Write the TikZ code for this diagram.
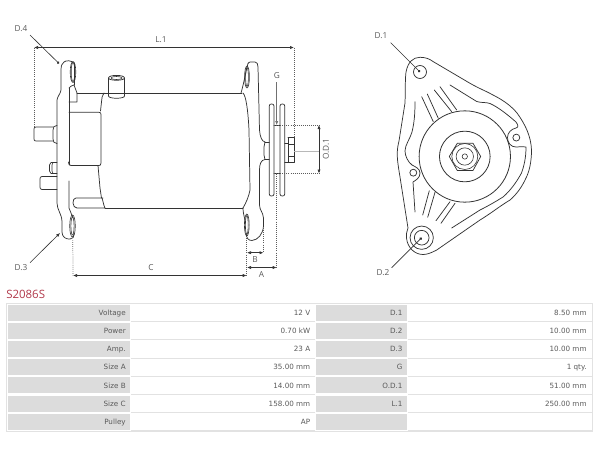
\documentclass[tikz,border=0pt]{standalone}
\usepackage{fontspec}
\setmainfont{DejaVu Sans}
\newfontfamily\lblfont{Open Sans}
\usetikzlibrary{arrows.meta}
\definecolor{ink}{HTML}{333333}
\definecolor{txt}{HTML}{5A5A5A}
\definecolor{cellgrey}{HTML}{DCDCDC}
\definecolor{rulegrey}{HTML}{E2E2E2}
\definecolor{titlered}{HTML}{B23A4C}
\tikzset{
  part/.style={draw=ink,line width=0.55pt,line join=round,line cap=round},
  thinpart/.style={draw=ink,line width=0.45pt},
  dotline/.style={draw=ink!80,line width=0.55pt,densely dotted},
  dimline/.style={draw=ink,line width=0.5pt,{Latex[length=3pt,width=2.4pt]}-{Latex[length=3pt,width=2.4pt]}},
  leader/.style={draw=ink,line width=0.45pt,-{Circle[length=2pt]}},
  leadarrow/.style={draw=ink,line width=0.45pt,-{Latex[length=3pt,width=2.4pt]}},
  dimlabel/.style={font=\lblfont\fontsize{6.2}{7}\selectfont,text=txt,inner sep=0pt},
  celltext/.style={font=\fontsize{5.4}{6}\selectfont,text=txt,inner sep=0pt,anchor=base east},
}
\begin{document}
\begin{tikzpicture}[x=0.75pt,y=-0.75pt]
\useasboundingbox (0,0) rectangle (600,450);
\fill[white] (0,0) rectangle (600,450);

% ---------- side view: left flange
\draw[part] (73.5,63) .. controls (72,60.5) and (66,60) .. (64,62) .. controls (62,63) and (61,66) .. (61,70)
  -- (61,90) .. controls (60.5,94) and (57.5,96) .. (57,100) -- (57,203)
  .. controls (57,210) and (62,214) .. (62,222) -- (62,232)
  .. controls (62,237) and (66,239.5) .. (70,239) .. controls (73,239) and (74,237) .. (74,234);
\draw[part] (74,63) -- (74,85);
\draw[part] (69,88) -- (69,165);
\draw[part] (69,181) -- (69,208) -- (73,218);
\draw[part] (74,85) -- (77,93) -- (77,102) -- (69,102);
\draw[part] (69,88) .. controls (70,86) and (72,86) .. (74,85);
\draw[thinpart] (73,72) ellipse (1.8 and 9.5);
\draw[thinpart] (73,72) ellipse (2.8 and 10.5);
\draw[thinpart] (72.5,226) ellipse (1.6 and 9);
\draw[thinpart] (72.5,226) ellipse (2.8 and 11);

% housing
\draw[part] (77,93) -- (242,93);
\draw[part] (105,208) -- (243,208);
\draw[part] (104,93) .. controls (102,95) and (102,98) .. (101.5,102) -- (100.5,111);
\draw[part] (69,112.3) -- (99,112.3) .. controls (100.5,112.3) and (101,113) .. (101,114.5)
  -- (101,163) .. controls (101,165) and (100,165.5) .. (99,165.5)
  -- (71,165.5) .. controls (69,165.5) and (68.5,164) .. (68.5,162) ;
\draw[part] (98,165.5) -- (100,188) -- (101.5,198);
\draw[part] (103,198) -- (76,198) .. controls (74,198) and (73,200) .. (73,203)
  .. controls (73,206) and (75,208) .. (77,208) -- (105,208) .. controls (103.5,205) and (103,201) .. (102,198);
% boss
\draw[part] (108.5,78) .. controls (108.5,74.5) and (124.5,74.5) .. (124.5,78)
  .. controls (124.5,81) and (108.5,81) .. (108.5,78);
\draw[thinpart] (111,78) .. controls (111,76) and (122,76) .. (122,78) .. controls (122,80) and (111,80) .. (111,78);
\draw[part] (108.5,78) -- (108.5,96) .. controls (108.5,99) and (124.5,99) .. (124.5,96) -- (124.5,78);

% studs at the left
\draw[part] (53,127) -- (36,127) .. controls (34.5,127) and (34,128) .. (34,129) -- (34,139)
  .. controls (34,140.5) and (34.5,141) .. (36,141) -- (53,141);
\draw[part] (57,125.5) .. controls (54,125.5) and (53,127) .. (53,130) -- (53,139)
  .. controls (53,142) and (54,143) .. (57,143.5);
\draw[part] (57,162.5) -- (51,162.5) -- (49.5,165) -- (49.5,171) -- (51,173.5) -- (57,173.5);
\draw[thinpart] (53,162.5) -- (52,165) -- (52,171) -- (53,173.5);
\draw[part] (57,176.5) -- (42,176.5) .. controls (40.5,176.5) and (40,177.5) .. (40,179)
  -- (40,187) .. controls (40,188.5) and (40.5,189.5) .. (42,189.5) -- (57,189.5);

% ---------- side view: right flange
\draw[part] (241,93) .. controls (244,83) and (246,70) .. (248,63.5)
  .. controls (248.5,62) and (250,62) .. (251,62) -- (255,62)
  .. controls (257,62) and (258,64) .. (258,67) -- (259.5,130)
  .. controls (260,137) and (262,141.5) .. (265,142);
\draw[part] (243,93) .. controls (246,96) and (248,110) .. (249,130) -- (250,190)
  .. controls (249,196) and (246,203) .. (243,208);
\draw[part] (265,159.5) .. controls (261,160) and (259.5,164) .. (259.5,170) -- (259.5,205)
  .. controls (259.5,210) and (263,212) .. (263.5,218) -- (263.5,226)
  .. controls (263,234) and (258,240) .. (252,240.5)
  .. controls (248,240.5) and (246.5,238) .. (246,233);
\draw[part] (243,208) .. controls (243,212) and (244,216) .. (245,220);
\draw[thinpart] (247,77) ellipse (1.4 and 9.5);
\draw[thinpart] (247,77) ellipse (2.4 and 11);
\draw[thinpart] (246.8,225) ellipse (1.4 and 9.5);
\draw[thinpart] (246.8,225) ellipse (2.4 and 11);

% pulley
\draw[part] (271.5,104) .. controls (273,104) and (274,104.5) .. (274,106) -- (274,194)
  .. controls (274,195.5) and (273,196) .. (271.5,196) .. controls (270,196) and (269.3,195.5) .. (269.3,194)
  -- (269.3,106) .. controls (269.3,104.5) and (270,104) .. (271.5,104);
\draw[part] (282.4,104) .. controls (284,104) and (284.7,104.5) .. (284.7,106) -- (284.7,194)
  .. controls (284.7,195.5) and (284,196) .. (282.4,196) .. controls (281,196) and (280,195.5) .. (280,194)
  -- (280,106) .. controls (280,104.5) and (281,104) .. (282.4,104);
\draw[part] (274,125) -- (280,125);
\draw[part] (274,173.5) -- (280,173.5);
\draw[part] (265,142) -- (269.3,142);
\draw[part] (265,159.5) -- (269.3,159.5);
\draw[part] (265,142) -- (264,147) -- (264,155) -- (265,159.5);
% nut
\draw[part] (284.7,143) -- (288,143) -- (288,162) -- (284.7,162);
\draw[part] (288,137.5) -- (294,137.5) -- (294,162.5) -- (288,162.5) -- (288,137.5);
\draw[thinpart] (288,144) -- (294,144);
\draw[thinpart] (288,156) -- (294,156);

% ---------- side view: dimensions
\coordinate (l1a) at (34,47.5);
\coordinate (l1b) at (294,47.5);
\coordinate (cA) at (73,275.5);
\coordinate (cB) at (246.7,275.5);
\coordinate (bA) at (247,252.7);
\coordinate (bB) at (263.5,252.7);
\coordinate (aA) at (247,267.5);
\coordinate (aB) at (276.7,267.5);
\coordinate (odT) at (319,125);
\coordinate (odB) at (319,173.5);
\coordinate (gA) at (276.7,82);
\coordinate (gB) at (276.7,125);
\draw[dotline] (34,47.5) -- (34,127);
\draw[dotline] (294,47.5) -- (294,137);
\draw[dotline] (72.8,240) -- (cA);
\draw[dotline] (246.7,238) -- (cB);
\draw[dotline] (263.5,228) -- (bB);
\draw[dotline] (276.7,174) -- (aB);
\draw[dotline] (274,125) -- (321,125);
\draw[dotline] (274,173.5) -- (321,173.5);
\draw[draw=ink!35,line width=0.4pt] (294,151.7) -- (320,151.7);
\draw[dimline] (l1a) -- (l1b);
\draw[dimline] (cA) -- (cB);
\draw[dimline] (bA) -- (bB);
\draw[dimline] (aA) -- (aB);
\draw[dimline] (odT) -- (odB);
\draw[leadarrow,draw=ink!70] (gA) -- (gB);

\node[dimlabel] (lblL) at (161,40) {L.1};
\node[dimlabel] (lblC) at (151,268) {C};
\node[dimlabel] (lblB) at (255,259.5) {B};
\node[dimlabel] (lblA) at (261.5,275) {A};
\node[dimlabel] (lblG) at (277,76) {G};
\node[dimlabel,rotate=90] (lblOD) at (326,149) {O.D.1};
\node[dimlabel] (lblD4) at (21,29) {D.4};
\node[dimlabel] (lblD3) at (21,268) {D.3};
\coordinate (d4end) at (59,63.5);
\coordinate (d3end) at (60,233);
\draw[leader] (30,35) -- (d4end);
\draw[leadarrow] (30,262.7) -- (d3end);

% ---------- front view: outline
\draw[part] (406,72) .. controls (408,62) and (413,57.3) .. (420,57.3)
  .. controls (425,57.3) and (429,58.5) .. (433,61.5) -- (470,83.3)
  .. controls (480,89) and (487,91.5) .. (493,95)
  .. controls (505,101) and (512,107) .. (517,113)
  .. controls (525,124) and (531,136) .. (531.5,150)
  .. controls (531.5,163) and (529,172) .. (526,178)
  .. controls (522,187) and (516,195) .. (510,200)
  .. controls (500,206) and (490,214) .. (480,220)
  -- (436.7,250) .. controls (431,253) and (427,254.5) .. (423,254.5)
  .. controls (415,254.5) and (407.5,248) .. (406.5,238)
  .. controls (406,234) and (407,231) .. (408,228)
  -- (400,177) .. controls (398,165) and (397,158) .. (397.3,152)
  .. controls (397.5,148) and (398,145) .. (399,141)
  -- (405,103) .. controls (405.5,90) and (405,80) .. (406,72);
\node[draw=ink,line width=0.55pt,circle,minimum size=9.75pt,inner sep=0pt] (d1hole) at (420,72) {};
\node[draw=ink,line width=0.55pt,circle,minimum size=17.5pt,inner sep=0pt] (d2lug) at (421.7,237.7) {};
\node[draw=ink,line width=0.55pt,circle,minimum size=11pt,inner sep=0pt] (d2hole) at (421.7,237.7) {};

% inner contours
\draw[part] (450,85) -- (476.7,101.5) .. controls (481,103) and (486,102) .. (490,103.5)
  .. controls (498,107) and (508,115) .. (516,122) .. controls (518,125) and (519,127) .. (516,128)
  .. controls (511,129) and (507.5,133) .. (507.5,137.5) .. controls (507.5,143) and (511,147) .. (516,147)
  .. controls (520,147) and (523,146) .. (526,147)
  .. controls (526,158) and (524,166) .. (521.5,173)
  .. controls (516,183) and (510,191) .. (503,197)
  .. controls (495,202) and (488,206) .. (480,210) -- (451.7,228);
\draw[part] (415,101.7) .. controls (415,112) and (414.5,122) .. (412,132)
  .. controls (410,139) and (405,145) .. (405,151)
  .. controls (405,156) and (408,162) .. (412,165)
  .. controls (416,167) and (420,169) .. (420,173)
  .. controls (420,178) and (416,180) .. (413,182) -- (415,212);
\node[draw=ink,line width=0.55pt,circle,minimum size=5.2pt,inner sep=0pt] (lughole1) at (516.3,137.6) {};
\node[draw=ink,line width=0.55pt,circle,minimum size=5.2pt,inner sep=0pt] (lughole2) at (413.3,172.7) {};
% ribs
\draw[part] (421.7,96.7) -- (433.3,121.7);
\draw[part] (427.3,94) -- (438.3,118.3);
\draw[part] (434.3,90) -- (451.7,111.7);
\draw[part] (440,86.7) -- (456.7,110);
\draw[part] (429.3,190.7) -- (422.7,215);
\draw[part] (435,192.3) -- (427.7,217.3);
\draw[part] (450,201.7) -- (436,220.7);
\draw[part] (455,203.3) -- (441,223.3);

% hub
\node[draw=ink,line width=0.6pt,circle,minimum size=68.5pt,inner sep=0pt] (rotor) at (464.8,156.5) {};
\node[draw=ink,line width=0.6pt,circle,minimum size=38pt,inner sep=0pt] (pulleyc) at (464.8,156.5) {};
\draw[part] (449.3,156.5) -- (457.3,143.3) -- (473,143.3) -- (480.7,156.5) -- (473,170.5) -- (457.3,170.5) -- cycle;
\node[thinpart,circle,minimum size=19.5pt,inner sep=0pt] (huba) at (464.8,156.5) {};
\node[thinpart,circle,minimum size=13pt,inner sep=0pt] (hubb) at (464.8,156.5) {};
\node[thinpart,circle,minimum size=4pt,inner sep=0pt] (hubc) at (464.8,156.5) {};

\node[dimlabel] (lblD1) at (381,36) {D.1};
\node[dimlabel] (lblD2) at (383,273) {D.2};
\coordinate (d1end) at (420,72);
\coordinate (d2end) at (421.7,237.7);
\draw[leader] (390.7,42.7) -- (d1end);
\draw[leader] (391.7,267.7) -- (d2end);

% ---------- title
\node[font=\lblfont\fontsize{8.6}{10}\selectfont,text=titlered,inner sep=0pt,anchor=base west] (title) at (6,298) {S2086S};

% ---------- table
\draw[rulegrey,line width=0.6pt] (6,303.3) rectangle (592,431.3);
\foreach \n/\yc/\a/\b/\c/\d in {
 1/312.5/Voltage/12 V/D.1/8.50 mm,
 2/330.7/Power/0.70 kW/D.2/10.00 mm,
 3/348.9/Amp./23 A/D.3/10.00 mm,
 4/367.1/Size A\hspace{1.9pt}/35.00 mm/G/1 qty.,
 5/385.3/Size B/14.00 mm/O.D.1/51.00 mm,
 6/403.5/Size C/158.00 mm/L.1/250.00 mm,
 7/421.7/Pulley/AP\hspace{1.2pt}//}{
  \fill[cellgrey] (7.5,\yc-8) rectangle (129.5,\yc+8);
  \fill[cellgrey] (315.5,\yc-8) rectangle (407,\yc+8);
  \draw[rulegrey,line width=0.5pt] (131,\yc+9.1) -- (315,\yc+9.1);
  \draw[rulegrey,line width=0.5pt] (408,\yc+9.1) -- (592,\yc+9.1);
  \node[celltext] (la\n) at (126,\yc+2.8) {\a};
  \node[celltext] (va\n) at (310.5,\yc+2.8) {\b};
  \node[celltext] (lb\n) at (402.8,\yc+2.8) {\c};
  \node[celltext] (vb\n) at (586.8,\yc+2.8) {\d};
}
\end{tikzpicture}
\end{document}
